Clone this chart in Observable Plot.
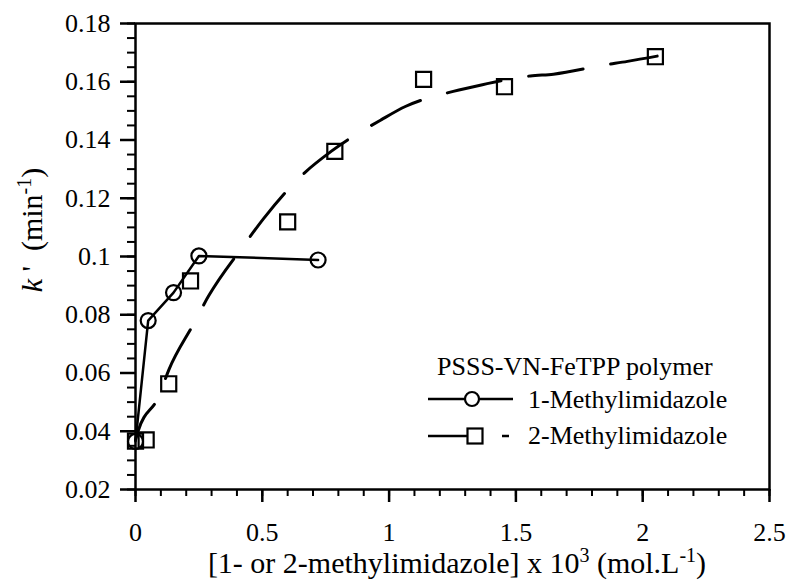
<!DOCTYPE html>
<html>
<head>
<meta charset="utf-8">
<script src="https://cdn.jsdelivr.net/npm/d3@7"></script>
<script src="https://cdn.jsdelivr.net/npm/@observablehq/plot@0.6"></script>
<style>
  html, body { margin: 0; padding: 0; background: white; }
  #chart { width: 789px; height: 580px; }
</style>
</head>
<body>
<div id="chart"></div>
<script>
// 1-Methylimidazole (circles, solid line)
const mono1X = [0, 0.05, 0.15, 0.25, 0.72];
const mono1K = [0.0365, 0.078, 0.0876, 0.1002, 0.0988];
// 2-Methylimidazole (squares)
const mono2X = [0, 0.042, 0.131, 0.217, 0.60, 0.786, 1.136, 1.455, 2.05];
const mono2K = [0.0366, 0.037, 0.0563, 0.0916, 0.1119, 0.1361, 0.1608, 0.1583, 0.1686];
// dashed fitted curve for 2-Methylimidazole
const fitX = [0, 0.01, 0.092, 0.131, 0.23, 0.288, 0.426, 0.505, 0.67, 0.77, 0.97, 1.064, 1.253, 1.368, 1.557, 1.648, 1.845, 1.94, 2.057];
const fitK = [0.037, 0.04, 0.052, 0.061, 0.077, 0.0864, 0.1037, 0.113, 0.129, 0.136, 0.147, 0.1515, 0.1567, 0.159, 0.162, 0.1626, 0.1657, 0.167, 0.1688];
// ticks
const xMajor = [0, 0.5, 1, 1.5, 2, 2.5];
const xMinor = d3.range(0, 26).map(i => i / 10);
const yMajor = [0.02, 0.04, 0.06, 0.08, 0.1, 0.12, 0.14, 0.16, 0.18];
const yMinor = d3.range(0, 33).map(i => +(0.02 + i * 0.005).toFixed(3));
// texts
const legendTitle = "PSSS-VN-FeTPP polymer";
const seriesNames = ["1-Methylimidazole", "2-Methylimidazole"];

const s1 = mono1X.map((x, i) => ({x, k: mono1K[i]}));
const s2 = mono2X.map((x, i) => ({x, k: mono2K[i]}));
const fit = fitX.map((x, i) => ({x, k: fitK[i]}));
const fmt = d => String(+d.toFixed(2));
const FONT = "Liberation Serif";

const chart = Plot.plot({
  width: 789,
  height: 580,
  marginLeft: 135,
  marginRight: 20,
  marginTop: 23,
  marginBottom: 91,
  x: {domain: [0, 2.5]},
  y: {domain: [0.02, 0.18]},
  style: {background: "white", color: "black"},
  marks: [
    Plot.axisX({ticks: xMinor, tickSize: 7, tickFormat: () => "", label: null, strokeWidth: 2}),
    Plot.axisX({ticks: xMajor, tickSize: 13, tickPadding: 20, tickFormat: fmt, label: null, strokeWidth: 2.5, fontSize: 26}),
    Plot.axisY({ticks: yMinor, tickSize: 8, tickFormat: () => "", label: null, strokeWidth: 2}),
    Plot.axisY({ticks: yMajor, tickSize: 15, tickPadding: 10, tickFormat: fmt, label: null, strokeWidth: 2.5, fontSize: 26}),
    Plot.frame({stroke: "black", strokeWidth: 2.5}),
    Plot.line(fit, {x: "x", y: "k", stroke: "black", strokeWidth: 3, curve: "monotone-x", strokeDasharray: "55,28", strokeDashoffset: 14}),
    Plot.line(s1, {x: "x", y: "k", stroke: "black", strokeWidth: 2.5}),
    Plot.dot(s1, {x: "x", y: "k", r: 7.5, stroke: "black", strokeWidth: 2.2, fill: "none"}),
    Plot.dot(s2, {x: "x", y: "k", r: 8.5, symbol: "square", stroke: "black", strokeWidth: 2.2, fill: "none"})
  ]
});
document.getElementById("chart").appendChild(chart);

const svg = d3.select(chart);
svg.attr("font-family", FONT);

// Axis titles and legend (rich text with superscripts / italic)
const g = svg.append("g").attr("font-size", 26).attr("fill", "black");

const xl = g.append("text").attr("x", 457).attr("y", 573).attr("text-anchor", "middle").attr("font-size", 30);
xl.append("tspan").text("[1- or 2-methylimidazole] x 10");
xl.append("tspan").attr("font-size", 20).attr("dy", -11).text("3");
xl.append("tspan").attr("dy", 11).text(" (mol.L");
xl.append("tspan").attr("font-size", 20).attr("dy", -11).text("-1");
xl.append("tspan").attr("dy", 11).text(")");

const yl = g.append("text").attr("transform", "translate(42,230) rotate(-90)").attr("text-anchor", "middle").attr("font-size", 30);
yl.append("tspan").attr("font-style", "italic").text("k");
yl.append("tspan").text(" '  (min");
yl.append("tspan").attr("font-size", 20).attr("dy", -11).text("-1");
yl.append("tspan").attr("dy", 11).text(")");

// legend
const lg = g.append("g").attr("text-anchor", "start");
lg.append("text").attr("x", 437).attr("y", 375).attr("font-size", 26).text(legendTitle);
lg.append("line").attr("x1", 428).attr("x2", 513).attr("y1", 399).attr("y2", 399).attr("stroke", "black").attr("stroke-width", 2.5);
lg.append("circle").attr("cx", 472).attr("cy", 399).attr("r", 7).attr("fill", "white").attr("stroke", "black").attr("stroke-width", 2.2);
lg.append("text").attr("x", 528).attr("y", 408).attr("font-size", 26).text(seriesNames[0]);
lg.append("line").attr("x1", 428).attr("x2", 468).attr("y1", 436).attr("y2", 436).attr("stroke", "black").attr("stroke-width", 2.5);
lg.append("rect").attr("x", 467.5).attr("y", 428.5).attr("width", 15).attr("height", 15).attr("fill", "white").attr("stroke", "black").attr("stroke-width", 2.2);
lg.append("line").attr("x1", 502).attr("x2", 509).attr("y1", 436).attr("y2", 436).attr("stroke", "black").attr("stroke-width", 2.5);
lg.append("text").attr("x", 528).attr("y", 444).attr("font-size", 26).text(seriesNames[1]);

// every text in the serif family
svg.selectAll("text").attr("font-family", FONT);
svg.selectAll("g").filter(function () { return this.querySelector("text"); }).attr("font-family", FONT);
</script>
</body>
</html>
